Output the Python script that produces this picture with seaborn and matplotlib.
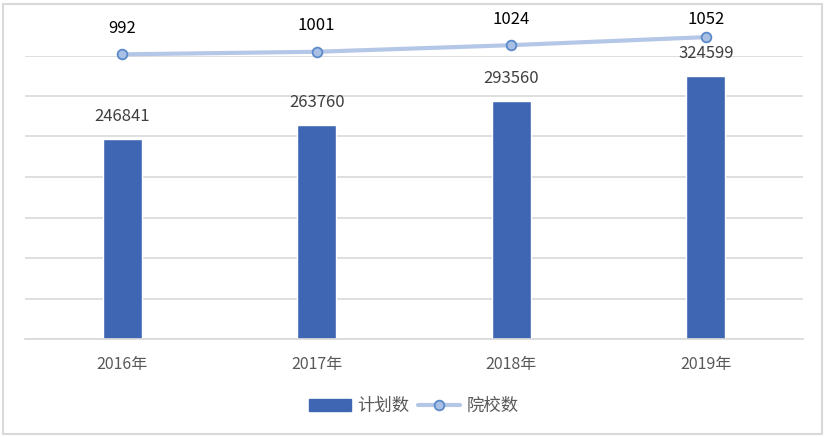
import matplotlib
matplotlib.use("Agg")

import matplotlib.pyplot as plt
import seaborn as sns
from matplotlib.patches import Patch, Rectangle
from matplotlib.lines import Line2D

# -----------------------------
# Data
# -----------------------------
years = ["2016年", "2017年", "2018年", "2019年"]
plan_counts = [246841, 263760, 293560, 324599]
school_counts = [992, 1001, 1024, 1052]

bar_color = "#3E66B2"
line_color = "#B4C7E7"
marker_face = "#A9C0E4"
marker_edge = "#5A8AC9"

# -----------------------------
# Style
# -----------------------------
sns.set_theme(style="white")
plt.rcParams["font.family"] = ["Noto Sans CJK SC", "DejaVu Sans"]

fig = plt.figure(figsize=(8.28, 4.37), dpi=100)
ax = fig.add_axes([25 / 828, 1 - 339 / 437, 778 / 828, 283.5 / 437])

# -----------------------------
# Bars
# -----------------------------
sns.barplot(x=years, y=plan_counts, ax=ax, color=bar_color, width=0.2,
            saturation=1, zorder=2)
ax.set_ylim(0, 350000)
ax.set_yticks(range(0, 350001, 50000))
ax.yaxis.grid(True, color="#D9D9D9", linewidth=1.2)
ax.set_axisbelow(True)
ax.set_yticklabels([])
ax.tick_params(axis="y", length=0)
ax.tick_params(axis="x", length=0, labelsize=11.5, labelcolor="#595959", pad=12)
for s in ax.spines.values():
    s.set_visible(False)
ax.spines["bottom"].set_visible(True)
ax.spines["bottom"].set_color("#D9D9D9")
ax.spines["bottom"].set_linewidth(1.2)
ax.set_xlim(-0.5, 3.5)

for i, v in enumerate(plan_counts):
    ax.annotate(str(v), (i, v), xytext=(0, 16.5), textcoords="offset points",
                ha="center", va="center", fontsize=12, color="#404040",
                annotation_clip=False)

# -----------------------------
# Line on secondary axis
# -----------------------------
ax2 = ax.twinx()
sns.pointplot(x=years, y=school_counts, ax=ax2, color=line_color,
              markers="o", linestyles="-", linewidth=3,
              markersize=7, markerfacecolor=marker_face,
              markeredgecolor=marker_edge, markeredgewidth=1.3,
              clip_on=False, zorder=5)
ax2.set_ylim(0, 988)
ax2.set_xlim(-0.5, 3.5)
ax2.set_yticks([])
ax2.set_ylabel("")
for s in ax2.spines.values():
    s.set_visible(False)
for line in ax2.lines:
    line.set_clip_on(False)
for coll in ax2.collections:
    coll.set_clip_on(False)

# labels sit 26px above the point, but never above the chart's top margin
fig_h = fig.get_figheight() * fig.dpi
for i, v in enumerate(school_counts):
    px, py = ax2.transData.transform((i, v))
    ty = min(py + 26, fig_h - 19)
    ax2.annotate(str(v), (i, v), xytext=(px, ty), textcoords="figure pixels",
                 ha="center", va="center", fontsize=12, color="#000000",
                 annotation_clip=False)

# -----------------------------
# Legend
# -----------------------------
handles = [
    Patch(facecolor=bar_color, edgecolor=bar_color),
    Line2D([0], [0], color=line_color, linewidth=3, marker="o",
           markersize=7, markerfacecolor=marker_face,
           markeredgecolor=marker_edge, markeredgewidth=1.3),
]
fig.legend(handles, ["计划数", "院校数"], loc="center",
           bbox_to_anchor=(0.5, 1 - 406 / 437), ncol=2, frameon=False,
           fontsize=12.5, labelcolor="#595959", handlelength=2.4,
           handleheight=0.7, columnspacing=0.5, handletextpad=0.4)

# outer chart border
fig.patches.append(Rectangle((3 / 828, 3 / 437), 819 / 828, 430 / 437,
                             transform=fig.transFigure, fill=False,
                             edgecolor="#D9D9D9", linewidth=1.5))

plt.savefig("out.png", dpi=100)
plt.close()
